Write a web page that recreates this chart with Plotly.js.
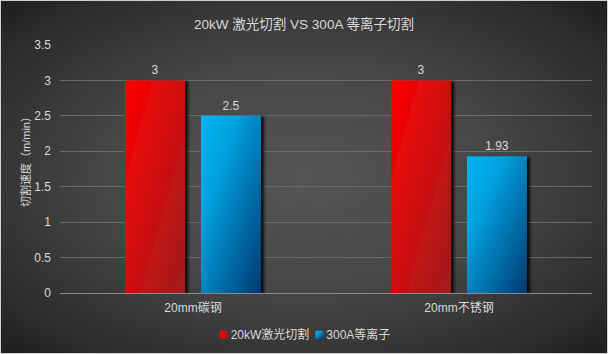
<!DOCTYPE html>
<html>
<head>
<meta charset="utf-8">
<script src="https://cdn.plot.ly/plotly-3.0.1.min.js"></script>
<style>
html,body{margin:0;padding:0;background:#2a2a2a;}
#chart{width:606px;height:352px;border:1px solid #d0d0d0;
background:radial-gradient(ellipse at 50% 50%, #555555 0%, #474747 45%, #2c2c2c 85%, #1e1e1e 100%);}
</style>
</head>
<body>
<div id="chart"></div>
<script>
const categories = ["20mm碳钢", "20mm不锈钢"];
const seriesNames = ["20kW激光切割", "300A等离子"];
const laserValues = [3, 3];
const plasmaValues = [2.5, 1.93];
const valueLabels = [["3", "3"], ["2.5", "1.93"]];
const yTicks = [0, 0.5, 1, 1.5, 2, 2.5, 3, 3.5];
const yTickLabels = ["0", "0.5", "1", "1.5", "2", "2.5", "3", "3.5"];

const font = 'Liberation Sans, Arial, "Noto Sans CJK SC", sans-serif';
const txt = '#d9d9d9';

const traces = [
  {type:'bar', name:seriesNames[0], x:categories, y:laserValues, text:valueLabels[0],
   textposition:'outside', cliponaxis:false, textfont:{color:txt, size:12, family:font},
   marker:{color:'#e01010'}, hoverinfo:'none'},
  {type:'bar', name:seriesNames[1], x:categories, y:plasmaValues, text:valueLabels[1],
   textposition:'outside', cliponaxis:false, textfont:{color:txt, size:12, family:font},
   marker:{color:'#0090d0'}, hoverinfo:'none'}
];

const layout = {
  width:606, height:352,
  paper_bgcolor:'rgba(0,0,0,0)', plot_bgcolor:'rgba(0,0,0,0)',
  margin:{l:59, r:15, t:44, b:60},
  title:{text:'20kW 激光切割 VS 300A 等离子切割', font:{color:txt, size:13.5, family:font}, x:0.5, xanchor:'center', y:0.935, yanchor:'middle'},
  barmode:'group', bargap:0.429, bargroupgap:0.21,
  showlegend:true,
  legend:{orientation:'h', x:0.5, xanchor:'center', xref:'container', yref:'container', y:0.052, yanchor:'middle',
          font:{color:txt, size:12, family:font}, itemwidth:30, tracegroupgap:0},
  xaxis:{tickfont:{color:txt, size:12, family:font}, showline:true, linecolor:'#8a8a8a', linewidth:1,
         ticks:'', showgrid:false, fixedrange:true, ticklabelstandoff:4},
  yaxis:{range:[0,3.5], tickvals:yTicks, ticktext:yTickLabels, tickfont:{color:txt, size:12, family:font},
         gridcolor:'#6a6a6a', gridwidth:1, zeroline:false, ticks:'', ticklen:0, ticklabelstandoff:8,
         title:{text:'切割速度（m/min）', font:{color:txt, size:11, family:font}, standoff:0},
         fixedrange:true}
};

const gd = document.getElementById('chart');
Plotly.newPlot(gd, traces, layout, {staticPlot:true, displayModeBar:false}).then(() => {
  const svg = gd.querySelector('svg.main-svg');
  const NS = 'http://www.w3.org/2000/svg';
  let defs = svg.querySelector('defs');
  if (!defs) { defs = document.createElementNS(NS,'defs'); svg.insertBefore(defs, svg.firstChild); }
  function grad(id, stops) {
    const g = document.createElementNS(NS,'linearGradient');
    g.setAttribute('id', id);
    g.setAttribute('x1','0'); g.setAttribute('y1','0'); g.setAttribute('x2','1'); g.setAttribute('y2','1');
    stops.forEach(([o,c]) => {
      const s = document.createElementNS(NS,'stop');
      s.setAttribute('offset', o); s.setAttribute('stop-color', c);
      g.appendChild(s);
    });
    defs.appendChild(g);
  }
  grad('gRed', [['0','#ff0000'],['1','#9e1c1e']]);
  grad('gBlue', [['0','#00b4f0'],['0.3','#00a2e0'],['1','#003a72']]);
  const f = document.createElementNS(NS,'filter');
  f.setAttribute('id','shadow'); f.setAttribute('x','-20%'); f.setAttribute('y','-10%');
  f.setAttribute('width','150%'); f.setAttribute('height','130%');
  const ds = document.createElementNS(NS,'feDropShadow');
  ds.setAttribute('dx','3'); ds.setAttribute('dy','1'); ds.setAttribute('stdDeviation','1.5');
  ds.setAttribute('flood-color','#000'); ds.setAttribute('flood-opacity','0.85');
  f.appendChild(ds); defs.appendChild(f);
  const ids = ['gRed','gBlue'];
  gd.querySelectorAll('.barlayer .trace.bars').forEach((t, i) => {
    t.querySelectorAll('.point path').forEach(p => {
      p.style.fill = 'url(#' + ids[i] + ')';
      p.setAttribute('filter','url(#shadow)');
    });
  });
  // place the y-axis title so its centre sits near (24, 158) as in the reference
  const ytText = gd.querySelector('.g-ytitle text');
  if (ytText) {
    const sr = svg.getBoundingClientRect();
    const r = ytText.getBoundingClientRect();
    const cx = (r.left + r.right) / 2 - sr.left;
    const cy = (r.top + r.bottom) / 2 - sr.top;
    const dx = 24 - cx, dy = 158 - cy;
    const prev = ytText.getAttribute('transform') || '';
    ytText.setAttribute('transform', 'translate(' + dx + ',' + dy + ') ' + prev);
  }
  // compact legend: small square symbols, text close to symbol
  const items = Array.from(gd.querySelectorAll('.legend .traces'));
  let xpos = 0;
  items.forEach((t, i) => {
    t.querySelectorAll('.legendpoints path').forEach(p => {
      p.style.fill = 'url(#' + ids[i] + ')';
      p.setAttribute('d','M2,-4H10V4H2Z');
      p.style.strokeWidth = '0';
      p.removeAttribute('transform');
      t.appendChild(p);
    });
    const tx = t.querySelector('text.legendtext');
    tx.setAttribute('x', 13);
    const w = 13 + tx.getComputedTextLength();
    const tr = t.getAttribute('transform') || '';
    const m = tr.match(/translate\(([-\d.]+),\s*([-\d.]+)\)/);
    const y = m ? m[2] : 0;
    t.setAttribute('transform', 'translate(' + xpos + ',' + y + ')');
    xpos += w + 4;
  });
  const total = xpos - 4;
  const leg = gd.querySelector('.legend');
  const lm = (leg.getAttribute('transform') || '').match(/translate\(([-\d.]+),\s*([-\d.]+)\)/);
  const ly = lm ? lm[2] : 330;
  const bg = leg.querySelector('.bg');
  if (bg) { bg.setAttribute('width', total + 4); }
  leg.setAttribute('transform', 'translate(' + (303 - total/2) + ',' + ly + ')');
});
</script>
</body>
</html>
